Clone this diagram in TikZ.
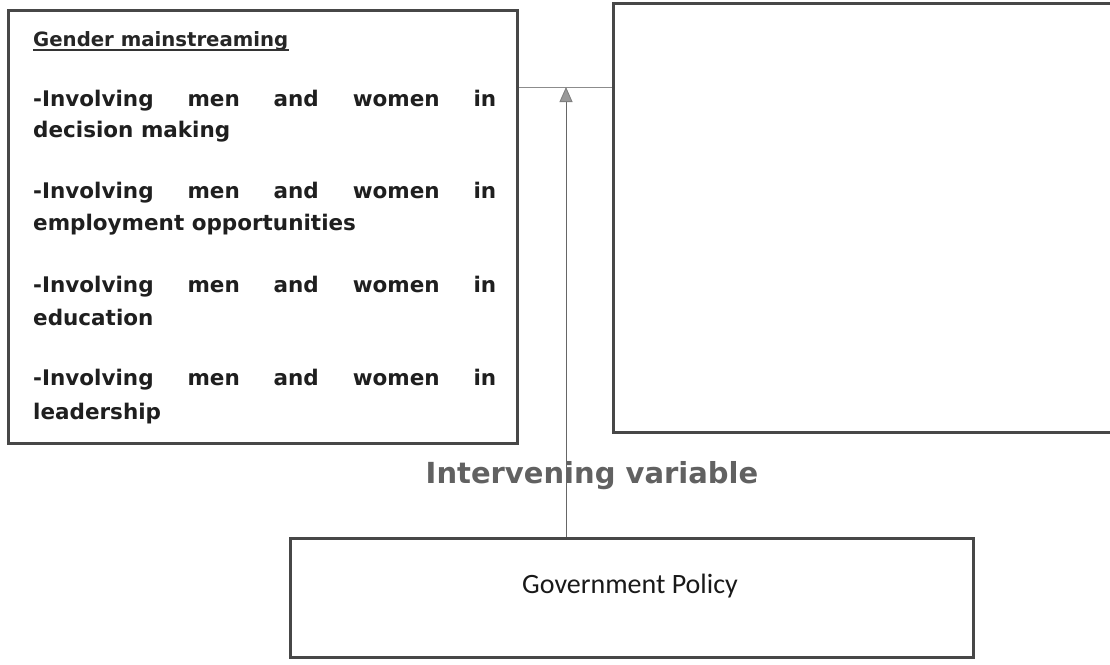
\documentclass[tikz,border=0pt]{standalone}
\usepackage{fontspec}
\usetikzlibrary{arrows.meta}
\newfontfamily\vbold{DejaVu Sans}
\newfontfamily\carl{Carlito}
\begin{document}
\begin{tikzpicture}[x=1pt,y=-1pt,
  box/.style={draw=black!72, line width=3pt, fill=none, inner sep=0pt},
  conn/.style={draw=black!60, line width=0.9pt},
  itemtxt/.style={anchor=base west, inner sep=0pt, text=black!88, font=\vbold\bfseries\fontsize{21.5}{24}\selectfont},
  headtxt/.style={anchor=base west, inner sep=0pt, text=black!85, font=\vbold\bfseries\fontsize{19.7}{22}\selectfont},
  ivtxt/.style={anchor=base, inner sep=0pt, text=black!62, font=\vbold\bfseries\fontsize{29}{32}\selectfont},
  gptxt/.style={anchor=base, inner sep=0pt, text=black!90, font=\carl\fontsize{28}{32}\selectfont}
]
\useasboundingbox (0,0) rectangle (1110,664);
\clip (0,0) rectangle (1110,664);
\fill[white] (0,0) rectangle (1110,664);

% boxes
\node[box, minimum width=509pt, minimum height=433pt] (L) at (262.5,226.5) {};
\node[box, minimum width=502pt, minimum height=429pt] (R) at (864,217.5) {};
\node[box, minimum width=683pt, minimum height=119pt] (B) at (631.5,597.5) {};

% left box text
\node[headtxt] (h) at (33,46) {Gender mainstreaming};
\draw[black!80, line width=1.6pt] ([yshift=-4pt]h.base west) -- ([yshift=-4pt]h.base east);

\node[itemtxt] (a1) at (33,106) {\makebox[463pt][s]{-Involving men and women in}};
\node[itemtxt] (a2) at (33,137) {decision making};
\node[itemtxt] (b1) at (33,198) {\makebox[463pt][s]{-Involving men and women in}};
\node[itemtxt] (b2) at (33,230) {employment opportunities};
\node[itemtxt] (c1) at (33,292) {\makebox[463pt][s]{-Involving men and women in}};
\node[itemtxt] (c2) at (33,325) {education};
\node[itemtxt] (d1) at (33,385) {\makebox[463pt][s]{-Involving men and women in}};
\node[itemtxt] (d2) at (33,419) {leadership};

% labels
\node[ivtxt] (iv) at (592,483) {Intervening variable};
\node[gptxt] (gp) at (630,593) {Government Policy};

% connectors
\coordinate (j) at (566,87);
\draw[conn, draw=black!45] (L.east |- j) -- (R.west |- j);
\draw[conn, -{Triangle[width=13pt,length=15pt,fill=black!40,color=black!50]}] (B.north -| j) -- (j);
\end{tikzpicture}
\end{document}
